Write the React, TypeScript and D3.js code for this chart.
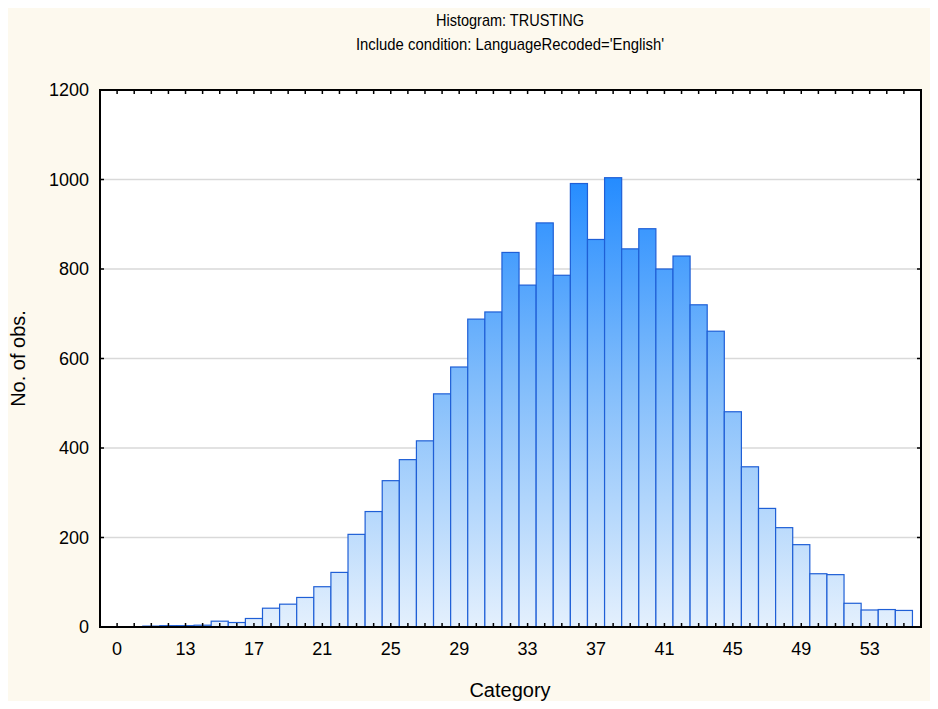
import * as d3 from "d3";
import { useEffect, useRef } from "react";

// bin labels (first bin is shown as "0" in the original output)
const categories = [
  "0", "10", "11", "12", "13", "14", "15", "16", "17", "18", "19", "20", "21", "22", "23", "24",
  "25", "26", "27", "28", "29", "30", "31", "32", "33", "34", "35", "36", "37", "38", "39", "40",
  "41", "42", "43", "44", "45", "46", "47", "48", "49", "50", "51", "52", "53", "54", "55",
];
const counts = [
  0, 0, 2, 3, 3, 4, 13, 10, 19, 42, 51, 66, 90, 122, 207, 258,
  327, 374, 416, 521, 581, 688, 704, 837, 764, 903, 786, 991, 866, 1004, 845, 890,
  800, 829, 720, 661, 481, 358, 265, 222, 184, 119, 117, 53, 38, 39, 37,
];
const yTicks = [0, 200, 400, 600, 800, 1000, 1200];
const labelledBins = ["0", "13", "17", "21", "25", "29", "33", "37", "41", "45", "49", "53"];

const W = 938;
const H = 709;
const margin = { top: 90, right: 17, bottom: 82, left: 100 };

const App = () => {
  const ref = useRef(null);

  useEffect(() => {
    d3.select(ref.current).select("svg").remove();

    const svg = d3
      .select(ref.current)
      .append("svg")
      .attr("width", W)
      .attr("height", H)
      .style("display", "block")
      .style("font-family", "'Liberation Sans', Arial, sans-serif");

    svg.append("rect").attr("width", W).attr("height", H).attr("fill", "#fdf9ee");

    const x0 = margin.left;
    const x1 = W - margin.right;
    const y0 = H - margin.bottom;
    const y1 = margin.top;

    const x = d3.scaleLinear().domain([-1, categories.length]).range([x0, x1]);
    const y = d3.scaleLinear().domain([0, 1200]).range([y0, y1]);
    const bw = x(1) - x(0);

    const defs = svg.append("defs");
    const grad = defs
      .append("linearGradient")
      .attr("id", "barGrad")
      .attr("gradientUnits", "userSpaceOnUse")
      .attr("x1", 0)
      .attr("x2", 0)
      .attr("y1", y(0))
      .attr("y2", y(1000));
    grad.append("stop").attr("offset", "0%").attr("stop-color", "#e4f0fd");
    grad.append("stop").attr("offset", "55%").attr("stop-color", "#80bcfb");
    grad.append("stop").attr("offset", "100%").attr("stop-color", "#258cff");

    // plot area
    svg.append("rect")
      .attr("x", x0).attr("y", y1)
      .attr("width", x1 - x0).attr("height", y0 - y1)
      .attr("fill", "#ffffff");

    // gridlines
    svg.append("g")
      .selectAll("line")
      .data(yTicks.filter((d) => d > 0 && d < 1200))
      .enter()
      .append("line")
      .attr("x1", x0).attr("x2", x1)
      .attr("y1", (d) => y(d)).attr("y2", (d) => y(d))
      .attr("stroke", "#d9d9d9")
      .attr("stroke-width", 1.5);

    // bars
    svg.append("g")
      .selectAll("rect")
      .data(counts)
      .enter()
      .append("rect")
      .attr("x", (_d, i) => x(i) - bw / 2)
      .attr("y", (d) => y(d))
      .attr("width", bw)
      .attr("height", (d) => y0 - y(d))
      .attr("fill", "url(#barGrad)")
      .attr("stroke", "#1f5fd6")
      .attr("stroke-width", 1.2);

    // x ticks (inside, bottom and top)
    const xt = svg.append("g");
    categories.forEach((_c, i) => {
      xt.append("line").attr("x1", x(i)).attr("x2", x(i)).attr("y1", y0).attr("y2", y0 - 4)
        .attr("stroke", "#000").attr("stroke-width", 1.5);
      xt.append("line").attr("x1", x(i)).attr("x2", x(i)).attr("y1", y1).attr("y2", y1 + 4)
        .attr("stroke", "#000").attr("stroke-width", 1.5);
    });

    // y ticks (inside, left and right)
    const yt = svg.append("g");
    yTicks.forEach((t) => {
      yt.append("line").attr("x1", x0).attr("x2", x0 + 4).attr("y1", y(t)).attr("y2", y(t))
        .attr("stroke", "#000").attr("stroke-width", 1.5);
      yt.append("line").attr("x1", x1).attr("x2", x1 - 4).attr("y1", y(t)).attr("y2", y(t))
        .attr("stroke", "#000").attr("stroke-width", 1.5);
      yt.append("text")
        .attr("x", x0 - 11).attr("y", y(t) + 6.3)
        .attr("text-anchor", "end")
        .attr("font-size", "18px")
        .attr("fill", "#000")
        .text(t);
    });

    // frame
    svg.append("rect")
      .attr("x", x0).attr("y", y1)
      .attr("width", x1 - x0).attr("height", y0 - y1)
      .attr("fill", "none")
      .attr("stroke", "#000")
      .attr("stroke-width", 2);

    // x labels
    svg.append("g")
      .selectAll("text")
      .data(labelledBins)
      .enter()
      .append("text")
      .attr("x", (d) => x(categories.indexOf(d)))
      .attr("y", y0 + 27.5)
      .attr("text-anchor", "middle")
      .attr("font-size", "18px")
      .attr("fill", "#000")
      .text((d) => d);

    // titles are rendered slightly condensed in the original
    svg.append("text")
      .attr("x", 510).attr("y", 26)
      .attr("text-anchor", "middle")
      .attr("font-size", "17px")
      .attr("textLength", 148)
      .attr("lengthAdjust", "spacingAndGlyphs")
      .text("Histogram: TRUSTING");
    svg.append("text")
      .attr("x", 510).attr("y", 50)
      .attr("text-anchor", "middle")
      .attr("font-size", "17px")
      .attr("textLength", 308)
      .attr("lengthAdjust", "spacingAndGlyphs")
      .text("Include condition: LanguageRecoded='English'");

    svg.append("text")
      .attr("x", 510).attr("y", 697)
      .attr("text-anchor", "middle")
      .attr("font-size", "20px")
      .text("Category");
    svg.append("text")
      .attr("transform", "translate(25," + ((y0 + y1) / 2) + ") rotate(-90)")
      .attr("text-anchor", "middle")
      .attr("font-size", "20px")
      .text("No. of obs.");
  }, [ref]);

  return <div ref={ref} style={{ margin: -8 }} />;
};

export default App;
